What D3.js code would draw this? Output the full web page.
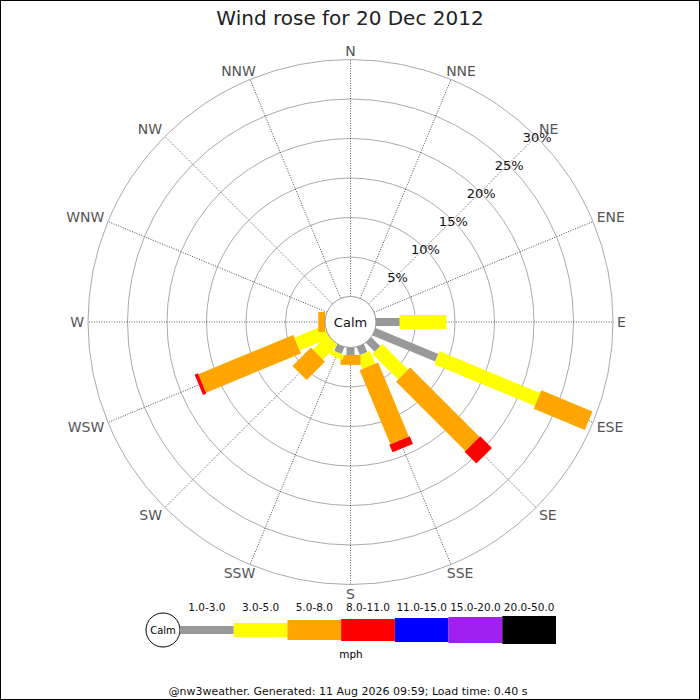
<!DOCTYPE html>
<html>
<head>
<meta charset="utf-8">
<script src="https://cdn.jsdelivr.net/npm/d3@7"></script>
<style>
  body { margin: 0; background: #fff; }
  svg { display: block; font-family: "DejaVu Sans", sans-serif; }
</style>
</head>
<body>
<div id="chart"></div>
<script>
// Compass directions, clockwise from north
const directions = ['N', 'NNE', 'NE', 'ENE', 'E', 'ESE', 'SE', 'SSE',
                    'S', 'SSW', 'SW', 'WSW', 'W', 'WNW', 'NW', 'NNW'];

// Speed bins (mph) and legend colours
const speedBins = ['1.0-3.0', '3.0-5.0', '5.0-8.0', '8.0-11.0', '11.0-15.0', '15.0-20.0', '20.0-50.0'];
const binColors = ['#999999', '#ffff00', '#ffa500', '#ff0000', '#0000ff', '#a020f0', '#000000'];

// Percentage of time per direction, one array per speed bin
const speed1to3   = [0, 0, 0, 0, 3.0, 8.6, 1.6, 1.1, 0.95, 0.95, 0, 0, 0, 0, 0, 0];
const speed3to5   = [0, 0, 0, 0, 5.9, 13.8, 4.6, 1.75, 0, 0.65, 2.6, 4.1, 0, 0, 0, 0];
const speed5to8   = [0, 0, 0, 0, 0, 7.0, 12.4, 10.15, 1.25, 0, 3.3, 13.0, 0.85, 0, 0, 0];
const speed8to11  = [0, 0, 0, 0, 0, 0, 2.1, 1.05, 0, 0, 0, 0.45, 0, 0, 0, 0];
const speed11to15 = [0, 0, 0, 0, 0, 0, 0, 0, 0, 0, 0, 0, 0, 0, 0, 0];
const speed15to20 = [0, 0, 0, 0, 0, 0, 0, 0, 0, 0, 0, 0, 0, 0, 0, 0];
const speed20to50 = [0, 0, 0, 0, 0, 0, 0, 0, 0, 0, 0, 0, 0, 0, 0, 0];
const series = [speed1to3, speed3to5, speed5to8, speed8to11, speed11to15, speed15to20, speed20to50];

// Ring ticks (%)
const ringTicks = [5, 10, 15, 20, 25, 30];

const title = 'Wind rose for 20 Dec 2012';
const footer = '@nw3weather. Generated: 11 Aug 2026 09:59; Load time: 0.40 s';

// Layout
const W = 700, H = 700;
const cx = 350.5, cy = 322;
const calmR = 25.5, outerR = 262.5;
const barWidths = [8, 14, 20, 22, 24, 26, 28];

const svg = d3.select('#chart')
  .append('svg')
    .attr('width', W)
    .attr('height', H);

svg.append('rect')
  .attr('x', 0.5).attr('y', 0.5)
  .attr('width', W - 1).attr('height', H - 1)
  .attr('fill', '#fff')
  .attr('stroke', '#000');

svg.append('text')
  .attr('x', 350)
  .attr('y', 25)
  .attr('text-anchor', 'middle')
  .style('font-size', '20px')
  .style('fill', '#222')
  .text(title);

const r = d3.scaleLinear()
  .domain([0, 30])
  .range([calmR, outerR]);

const angle = d3.scalePoint()
  .domain(directions)
  .range([0, 360 - 360 / directions.length]);

const g = svg.append('g')
  .attr('transform', `translate(${cx},${cy})`);

// Rings
g.selectAll('circle.ring')
  .data(ringTicks)
  .join('circle')
    .attr('class', 'ring')
    .attr('r', d => r(d))
    .attr('fill', 'none')
    .attr('stroke', '#aaa')
    .attr('stroke-width', 1);

// Spokes
g.selectAll('line.spoke')
  .data(directions)
  .join('line')
    .attr('class', 'spoke')
    .attr('transform', d => `rotate(${angle(d)})`)
    .attr('x1', 0).attr('y1', -calmR)
    .attr('x2', 0).attr('y2', -outerR)
    .attr('stroke', '#333')
    .attr('stroke-width', 0.8)
    .attr('stroke-dasharray', '1,1.5');

// Direction labels: pushed outward from the spoke end by part of the label box
const dirLabels = g.selectAll('text.dir')
  .data(directions)
  .join('text')
    .attr('class', 'dir')
    .attr('text-anchor', 'middle')
    .style('font-size', '14px')
    .style('fill', '#555')
    .text(d => d);

dirLabels.each(function(d) {
  const a = angle(d) * Math.PI / 180;
  const s = Math.sin(a), c = Math.cos(a);
  const w = this.getComputedTextLength(), h = 10;
  const fx = Math.sign(s) * Math.min(1, 1.5 * Math.abs(s));
  const fy = Math.sign(c) * Math.min(1, 1.5 * Math.abs(c));
  const px = 266.5 * s + fx * w / 2;
  const py = -266.5 * c - fy * h / 2;
  d3.select(this)
    .attr('x', px)
    .attr('y', py + 5);
});

// Stacked bars
const segments = [];
directions.forEach((dir, i) => {
  let cum = 0;
  series.forEach((s, k) => {
    const v = s[i];
    if (v > 0) {
      segments.push({ dir, k, start: cum, end: cum + v });
      cum += v;
    }
  });
});

g.selectAll('rect.seg')
  .data(segments)
  .join('rect')
    .attr('class', 'seg')
    .attr('transform', d => `rotate(${angle(d.dir)})`)
    .attr('x', d => -barWidths[d.k] / 2)
    .attr('width', d => barWidths[d.k])
    .attr('y', d => -r(d.end))
    .attr('height', d => r(d.end) - r(d.start))
    .attr('fill', d => binColors[d.k]);

// Ring labels along NE
g.selectAll('text.tick')
  .data(ringTicks)
  .join('text')
    .attr('class', 'tick')
    .attr('x', d => r(d) * Math.SQRT1_2 + 1)
    .attr('y', d => -r(d) * Math.SQRT1_2 + 1)
    .attr('text-anchor', 'middle')
    .attr('dominant-baseline', 'central')
    .style('font-size', '13px')
    .style('fill', '#111')
    .text(d => d + '%');

// Calm circle
g.append('circle')
  .attr('r', calmR)
  .attr('fill', '#fff')
  .attr('stroke', '#999');
g.append('text')
  .attr('dominant-baseline', 'central')
  .attr('text-anchor', 'middle')
  .style('font-size', '13px')
  .style('fill', '#111')
  .text('Calm');

// Legend
const legX = d3.scaleBand()
  .domain(speedBins)
  .range([180, 556]);
const legY = 630;

const legend = svg.append('g');
legend.append('circle')
  .attr('cx', 163).attr('cy', legY).attr('r', 17)
  .attr('fill', '#fff').attr('stroke', '#000');
legend.append('text')
  .attr('x', 163).attr('y', legY)
  .attr('text-anchor', 'middle')
  .attr('dominant-baseline', 'central')
  .style('font-size', '10px')
  .text('Calm');

legend.selectAll('rect')
  .data(speedBins)
  .join('rect')
    .attr('x', d => legX(d))
    .attr('width', legX.bandwidth())
    .attr('y', (d, i) => legY - barWidths[i] / 2)
    .attr('height', (d, i) => barWidths[i])
    .attr('fill', (d, i) => binColors[i]);

legend.selectAll('text.bin')
  .data(speedBins)
  .join('text')
    .attr('class', 'bin')
    .attr('x', d => legX(d) + legX.bandwidth() / 2)
    .attr('y', 611)
    .attr('text-anchor', 'middle')
    .style('font-size', '10.5px')
    .style('fill', '#111')
    .text(d => d);

legend.append('text')
  .attr('x', 351).attr('y', 658)
  .attr('text-anchor', 'middle')
  .style('font-size', '10.5px')
  .text('mph');

svg.append('text')
  .attr('x', 348).attr('y', 695)
  .attr('text-anchor', 'middle')
  .style('font-size', '11px')
  .style('fill', '#111')
  .text(footer);
</script>
</body>
</html>
